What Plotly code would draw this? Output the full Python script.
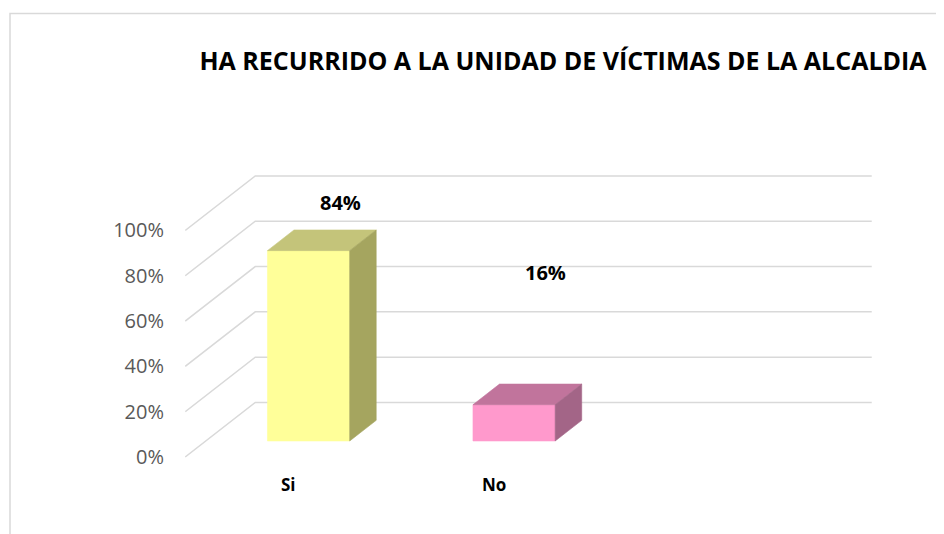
import plotly.graph_objects as go

# ---- data ----
categories = ["Si", "No"]
values = [84, 16]                      # percent
value_labels = ["84%", "16%"]
tick_values = [0, 20, 40, 60, 80, 100]
tick_labels = ["0%", "20%", "40%", "60%", "80%", "100%"]

# ---- styles / geometry (3D projection constants) ----
front_colors = ["#FFFF99", "#FF99CC"]
top_colors = ["#C4C47A", "#C1749C"]
side_colors = ["#A5A55F", "#A36587"]
grid_color = "#D9D9D9"
N_SLOTS = 3            # category slots on the floor
DU = 0.3406            # depth shift along x (category units) for full depth
DV = 24.05             # depth shift along y (percent units) for full depth
D0, D1 = 0.294, 0.673  # bar depth (front, back) as fraction of full depth
HW = 0.2               # half bar width (category units)
label_depth = 0.75
label_yshift_px = [23, 107]

OFF = 8                # page body margin
W, H = 944 - OFF, 534 - OFF
ML = 185 - OFF


def proj(u, v, d):
    return u + d * DU, v + d * DV


fig = go.Figure()

# gridlines: side wall diagonals + back wall horizontals
for t in tick_values:
    x0, y0 = proj(-0.5, t, 0)
    x1, y1 = proj(-0.5, t, 1)
    x2, y2 = proj(N_SLOTS - 0.5, t, 1)
    fig.add_trace(go.Scatter(x=[x0, x1, x2], y=[y0, y1, y2], mode="lines",
                             line=dict(color=grid_color, width=1.5),
                             hoverinfo="skip", showlegend=False))

# 3D bars
for i, (cat, val) in enumerate(zip(categories, values)):
    fl = proj(i - HW, 0, D0)
    fr = proj(i + HW, 0, D0)
    ftl = proj(i - HW, val, D0)
    ftr = proj(i + HW, val, D0)
    btl = proj(i - HW, val, D1)
    btr = proj(i + HW, val, D1)
    br = proj(i + HW, 0, D1)
    faces = [
        ([fl, fr, ftr, ftl], front_colors[i]),
        ([ftl, ftr, btr, btl], top_colors[i]),
        ([fr, br, btr, ftr], side_colors[i]),
    ]
    for pts, col in faces:
        xs = [p[0] for p in pts] + [pts[0][0]]
        ys = [p[1] for p in pts] + [pts[0][1]]
        fig.add_trace(go.Scatter(x=xs, y=ys, mode="lines", fill="toself",
                                 fillcolor=col, line=dict(color=col, width=0.6),
                                 hoverinfo="skip", showlegend=False))
    lx, ly = proj(i, val, label_depth)
    fig.add_annotation(x=lx, y=ly, text=value_labels[i], showarrow=False,
                       yshift=label_yshift_px[i], xanchor="center", yanchor="middle",
                       font=dict(family="Open Sans", size=20, color="#000000", weight="bold"))
    cx, cy = proj(i, 0, 0)
    fig.add_annotation(x=cx, y=cy, text=cat, showarrow=False, yshift=-27,
                       xanchor="center", yanchor="middle",
                       font=dict(family="Open Sans", size=17, color="#000000", weight="bold"))

px_per_u = 205.5
px_per_v = 2.266
u0_px = 288 - OFF
v0_px = 457 - OFF
fig.update_layout(
    width=W, height=H,
    margin=dict(l=ML, r=0, t=0, b=0),
    paper_bgcolor="white", plot_bgcolor="white",
    title=dict(text="HA RECURRIDO A LA UNIDAD DE VÍCTIMAS DE LA ALCALDIA",
               x=(563 - OFF) / W, y=1 - (61 - OFF) / H, xref="container", yref="container",
               xanchor="center", yanchor="middle",
               font=dict(family="Open Sans", size=25, color="#000000", weight="bold")),
    xaxis=dict(range=[(ML - u0_px) / px_per_u, (W - u0_px) / px_per_u],
               visible=False, fixedrange=True),
    yaxis=dict(range=[(v0_px - H) / px_per_v, v0_px / px_per_v],
               tickmode="array", tickvals=tick_values, ticktext=tick_labels,
               showgrid=False, zeroline=False, showline=False, ticks="",
               ticklabelstandoff=20,
               tickfont=dict(family="Open Sans", size=20, color="#595959"),
               fixedrange=True),
    shapes=[dict(type="path", xref="paper", yref="paper",
                 path="M {} 0 L {} {} L 1.01 {}".format(
                     (10 - 185) / (W - ML), (10 - 185) / (W - ML),
                     1 - (13.5 - OFF) / H, 1 - (13.5 - OFF) / H),
                 line=dict(color="#D9D9D9", width=1.5), layer="below")],
)

fig.write_html("out.html")
